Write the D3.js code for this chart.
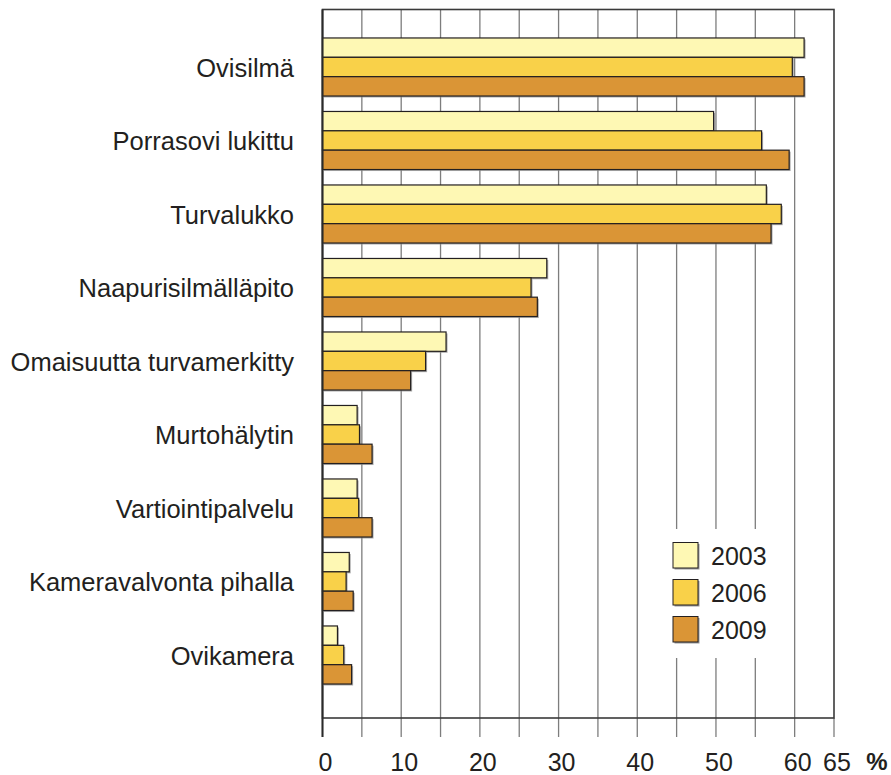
<!DOCTYPE html>
<html>
<head>
<meta charset="utf-8">
<script src="https://cdn.jsdelivr.net/npm/d3@7"></script>
<style>
  body { margin: 0; background: #fff; }
  svg { display: block; font-family: "Liberation Sans", Arial, sans-serif; }
  .grid line { stroke: #7d7d7d; stroke-width: 1.3; }
  .frame { fill: none; stroke: #3a3a3a; stroke-width: 1.6; }
  .cat-label, .tick-label, .legend-label { fill: #231f20; }
</style>
</head>
<body>
<svg id="chart"></svg>
<script>
// Categories, top to bottom
const categories = [
  'Ovisilmä',
  'Porrasovi lukittu',
  'Turvalukko',
  'Naapurisilmälläpito',
  'Omaisuutta turvamerkitty',
  'Murtohälytin',
  'Vartiointipalvelu',
  'Kameravalvonta pihalla',
  'Ovikamera'
];

const years = ['2003', '2006', '2009'];

// Percentages per year, same order as categories
const values2003 = [61.2, 49.7, 56.4, 28.5, 15.7, 4.4, 4.4, 3.4, 1.9];
const values2006 = [59.7, 55.8, 58.3, 26.5, 13.1, 4.7, 4.6, 3.0, 2.7];
const values2009 = [61.2, 59.3, 57.0, 27.3, 11.2, 6.3, 6.3, 3.9, 3.7];

const xTicks = [0, 10, 20, 30, 40, 50, 60, 65];
const gridTicks = [5, 10, 15, 20, 25, 30, 35, 40, 45, 50, 55, 60];
const axisTicks = [0, 5, 10, 15, 20, 25, 30, 35, 40, 45, 50, 55, 60, 65];

const colors = { '2003': '#fef8b4', '2006': '#f9d149', '2009': '#da9536' };

class GroupedBarChart {

  constructor(_config) {
    this.config = {
      parentElement: _config.parentElement,
      containerWidth: 891,
      containerHeight: 775,
      plotLeft: 322.5,
      plotRight: 834,
      plotTop: 9.5,
      plotBottom: 718
    };
    this.data = categories.map((c, i) => ({
      category: c,
      values: [
        { year: '2003', value: values2003[i] },
        { year: '2006', value: values2006[i] },
        { year: '2009', value: values2009[i] }
      ]
    }));
    this.initVis();
  }

  initVis() {
    let vis = this;
    const cfg = vis.config;

    vis.svg = d3.select(cfg.parentElement)
      .attr('width', cfg.containerWidth)
      .attr('height', cfg.containerHeight);

    // Scales
    vis.xScale = d3.scaleLinear()
      .domain([0, 65])
      .range([cfg.plotLeft, cfg.plotRight]);

    vis.yScale = d3.scaleBand()
      .domain(categories)
      .range([30.25, 691.75])
      .paddingInner(0.21)
      .paddingOuter(0.105);

    vis.ySubScale = d3.scaleBand()
      .domain(years)
      .range([0, vis.yScale.bandwidth()]);

    vis.renderVis();
  }

  renderVis() {
    let vis = this;
    const cfg = vis.config;

    // Vertical grid lines
    vis.svg.append('g')
      .attr('class', 'grid')
      .selectAll('line')
      .data(gridTicks)
      .join('line')
      .attr('x1', d => vis.xScale(d))
      .attr('x2', d => vis.xScale(d))
      .attr('y1', cfg.plotTop)
      .attr('y2', cfg.plotBottom);

    // Tick marks below the axis
    vis.svg.append('g')
      .attr('class', 'grid')
      .selectAll('line')
      .data(axisTicks)
      .join('line')
      .attr('x1', d => vis.xScale(d))
      .attr('x2', d => vis.xScale(d))
      .attr('y1', cfg.plotBottom)
      .attr('y2', cfg.plotBottom + 19);

    // Frame around plot
    vis.svg.append('rect')
      .attr('class', 'frame')
      .attr('x', cfg.plotLeft)
      .attr('y', cfg.plotTop)
      .attr('width', cfg.plotRight - cfg.plotLeft)
      .attr('height', cfg.plotBottom - cfg.plotTop);

    // Legend background hides the grid behind it
    const legend = vis.svg.append('g')
      .attr('transform', 'translate(662,529)');

    legend.append('rect')
      .attr('width', 128)
      .attr('height', 129)
      .attr('fill', '#fff');

    const items = legend.selectAll('.legend-item')
      .data(years)
      .join('g')
      .attr('class', 'legend-item')
      .attr('transform', (d, i) => `translate(11,${13.5 + i * 37})`);

    items.append('rect')
      .attr('x', 1.5)
      .attr('y', 1.5)
      .attr('width', 25)
      .attr('height', 25.5)
      .attr('fill', '#9a9a9a');

    items.append('rect')
      .attr('width', 25)
      .attr('height', 25.5)
      .attr('fill', d => colors[d])
      .attr('stroke', '#231f20')
      .attr('stroke-width', 1);

    items.append('text')
      .attr('class', 'legend-label')
      .attr('x', 38)
      .attr('y', 13.5)
      .attr('dy', '0.35em')
      .style('font-size', '25px')
      .text(d => d);

    // Bar groups
    const groups = vis.svg.selectAll('.group')
      .data(vis.data)
      .join('g')
      .attr('class', 'group')
      .attr('transform', d => `translate(0,${vis.yScale(d.category)})`);

    // Soft shadow under each bar
    groups.selectAll('.shadow')
      .data(d => d.values)
      .join('rect')
      .attr('class', 'shadow')
      .attr('x', vis.xScale(0) + 1.5)
      .attr('y', d => vis.ySubScale(d.year) + 1.5)
      .attr('width', d => vis.xScale(d.value) - vis.xScale(0))
      .attr('height', vis.ySubScale.bandwidth())
      .attr('fill', '#8c8c8c')
      .attr('opacity', 0.7);

    groups.selectAll('.bar')
      .data(d => d.values)
      .join('rect')
      .attr('class', 'bar')
      .attr('x', vis.xScale(0))
      .attr('y', d => vis.ySubScale(d.year))
      .attr('width', d => vis.xScale(d.value) - vis.xScale(0))
      .attr('height', vis.ySubScale.bandwidth())
      .attr('fill', d => colors[d.year])
      .attr('stroke', '#231f20')
      .attr('stroke-width', 1.2);

    // Category labels
    groups.append('text')
      .attr('class', 'cat-label')
      .attr('x', 294)
      .attr('y', vis.yScale.bandwidth() / 2 + 1)
      .attr('dy', '0.35em')
      .attr('text-anchor', 'end')
      .style('font-size', '25.5px')
      .text(d => d.category);

    // Left axis line drawn over the bars
    vis.svg.append('line')
      .attr('x1', cfg.plotLeft)
      .attr('x2', cfg.plotLeft)
      .attr('y1', cfg.plotTop)
      .attr('y2', cfg.plotBottom + 19)
      .attr('stroke', '#2a2a2a')
      .attr('stroke-width', 2);

    // X tick labels
    vis.svg.selectAll('.tick-label')
      .data(xTicks)
      .join('text')
      .attr('class', 'tick-label')
      .attr('x', d => vis.xScale(d) + 3)
      .attr('y', 762)
      .attr('dy', '0.35em')
      .attr('text-anchor', 'middle')
      .style('font-size', '25px')
      .text(d => d);

    vis.svg.append('text')
      .attr('class', 'tick-label')
      .attr('x', 877)
      .attr('y', 762)
      .attr('dy', '0.35em')
      .attr('text-anchor', 'middle')
      .style('font-size', '24px')
      .style('font-weight', 'bold')
      .text('%');
  }
}

const chart = new GroupedBarChart({ parentElement: '#chart' });
</script>
</body>
</html>
